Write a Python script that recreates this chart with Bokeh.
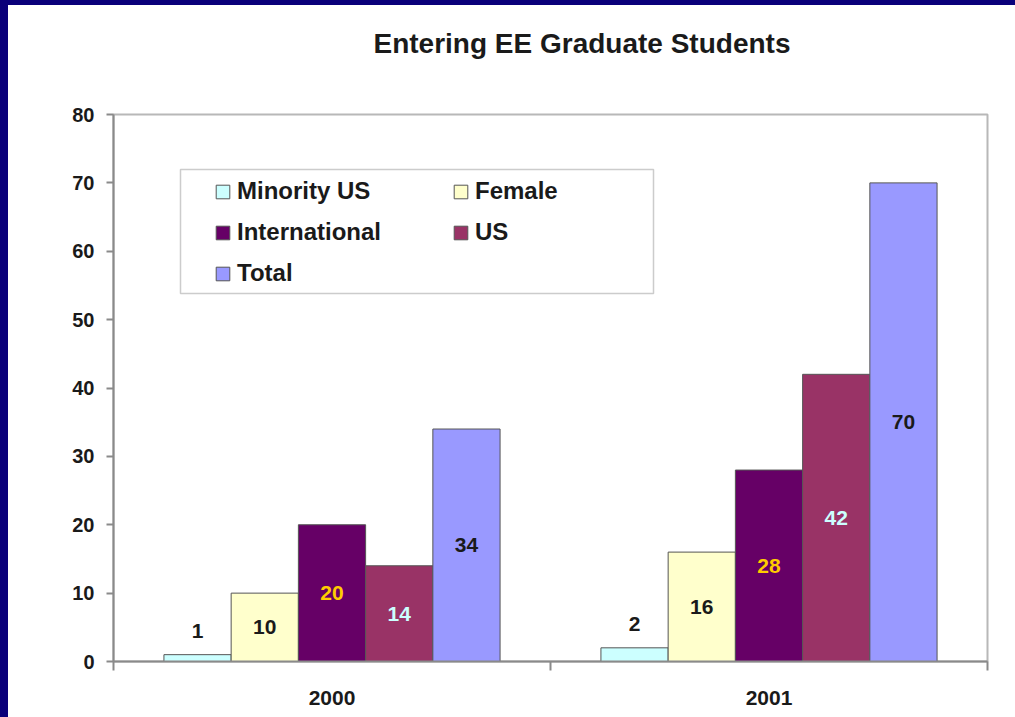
from bokeh.plotting import figure
from bokeh.models import (ColumnDataSource, Range1d, FixedTicker, Legend, LegendItem,
                          BoxAnnotation, LinearAxis, Title)
from bokeh.core.properties import value
from bokeh.embed import file_html
from bokeh.resources import INLINE

# ---------------- data ----------------
title_text = "Entering EE Graduate Students"
years = ["2000", "2001"]
series_names = ["Minority US", "Female", "International", "US", "Total"]
minority_us = [1, 2]
female = [10, 16]
international = [20, 28]
us = [14, 42]
total = [34, 70]
y_ticks = [0, 10, 20, 30, 40, 50, 60, 70, 80]

series_values = [minority_us, female, international, us, total]

# ---------------- style ----------------
FONT = "Liberation Sans"
bar_colors = ["#CCFFFF", "#FFFFCC", "#660066", "#993366", "#9999FF"]
label_colors = ["#1a1a1a", "#1a1a1a", "#FFCC00", "#CCFFFF", "#1a1a1a"]
outline = "#555555"
axis_gray = "#8a8a8a"
navy = "#0A007A"

OX, OY = 8, 5          # canvas offset on the page (navy strips live outside it)
W, H = 1015 - OX, 717 - OY
p = figure(width=W, height=H, output_backend="svg", toolbar_location=None,
           x_range=Range1d(0, len(years)), y_range=Range1d(0, 80),
           min_border_left=113 - OX, min_border_right=28, min_border_top=114 - OY,
           min_border_bottom=56, x_axis_type=None, y_axis_type=None)
p.styles = {"position": "absolute", "left": f"{OX}px", "top": f"{OY}px",
            "box-shadow": (f"-{OX}px -{OY}px 0px 0px {navy}, "
                           f"0px -{OY}px 0px 0px {navy}, "
                           f"-{OX}px 0px 0px 0px {navy}")}
p.background_fill_color = "white"
p.border_fill_color = "white"
p.outline_line_color = "#b8b8b8"
p.outline_line_width = 2
p.xgrid.visible = False
p.ygrid.visible = False

# spacer between frame and title, then the title itself
p.add_layout(Title(text=" ", text_font_size="1px", standoff=53), "above")
p.add_layout(Title(text=title_text, text_font=FONT, text_font_size="28px",
                   text_font_style="bold", text_color="#1a1a1a", align="left",
                   offset=260, vertical_align="bottom", standoff=0), "above")

# axes
yaxis = LinearAxis(ticker=FixedTicker(ticks=y_ticks))
yaxis.axis_line_color = axis_gray
yaxis.axis_line_width = 2
yaxis.major_tick_line_color = axis_gray
yaxis.major_tick_line_width = 2
yaxis.major_tick_out = 7
yaxis.major_tick_in = 0
yaxis.minor_tick_line_color = None
yaxis.major_label_standoff = 12
yaxis.major_label_text_font = FONT
yaxis.major_label_text_font_size = "20px"
yaxis.major_label_text_font_style = "bold"
yaxis.major_label_text_color = "#1a1a1a"
p.add_layout(yaxis, "left")

centers = [i + 0.5 for i in range(len(years))]
xaxis = LinearAxis(ticker=FixedTicker(ticks=centers,
                                      minor_ticks=list(range(len(years) + 1))))
xaxis.major_label_overrides = {c: y for c, y in zip(centers, years)}
xaxis.axis_line_color = axis_gray
xaxis.axis_line_width = 2
xaxis.major_tick_line_color = None
xaxis.major_tick_out = 0
xaxis.major_tick_in = 0
xaxis.minor_tick_line_color = axis_gray
xaxis.minor_tick_line_width = 2
xaxis.minor_tick_out = 9
xaxis.minor_tick_in = 0
xaxis.major_label_standoff = 20
xaxis.major_label_text_font = FONT
xaxis.major_label_text_font_size = "21px"
xaxis.major_label_text_font_style = "bold"
xaxis.major_label_text_color = "#1a1a1a"
p.add_layout(xaxis, "below")

# bars
n = len(series_names)
bw = 1.0 / (n + 1.5)  # Excel gap width 150%
renderers = []
for k, (name, vals) in enumerate(zip(series_names, series_values)):
    xs = [c + (k - (n - 1) / 2) * bw for c in centers]
    if k == 0:
        ly = [v + 3.5 for v in vals]
    else:
        ly = [v / 2 for v in vals]
    src = ColumnDataSource(dict(x=xs, top=vals, ly=ly, txt=[str(v) for v in vals]))
    r = p.vbar(x="x", top="top", bottom=0, width=bw, source=src,
               fill_color=bar_colors[k], line_color=outline, line_width=1)
    renderers.append(r)
    p.text(x="x", y="ly", text="txt", source=src, text_align="center",
           text_baseline="middle", text_font=value(FONT), text_font_size="21px",
           text_font_style="bold", text_color=label_colors[k])

# legend frame
p.add_layout(BoxAnnotation(left=180 - OX, right=653 - OX, top=169 - OY, bottom=293 - OY,
                           left_units="canvas", right_units="canvas",
                           top_units="canvas", bottom_units="canvas",
                           fill_color="white", fill_alpha=1,
                           line_color="#555555", line_width=1.5))

# column-major layout: first column Minority US / International / Total
legend_order = [0, 2, 4, 1, 3]
legend = Legend(items=[LegendItem(label=series_names[i], renderers=[renderers[i]])
                       for i in legend_order],
                location=(91, 364), orientation="vertical", ncols=2,
                glyph_width=17, glyph_height=17, label_standoff=6,
                label_width=202, label_height=27, spacing=13, padding=10, margin=0,
                border_line_alpha=0, background_fill_alpha=0,
                label_text_font=FONT, label_text_font_size="24px",
                label_text_font_style="bold", label_text_color="#1a1a1a")
p.add_layout(legend)

open("out.html", "w").write(file_html(p, INLINE))
